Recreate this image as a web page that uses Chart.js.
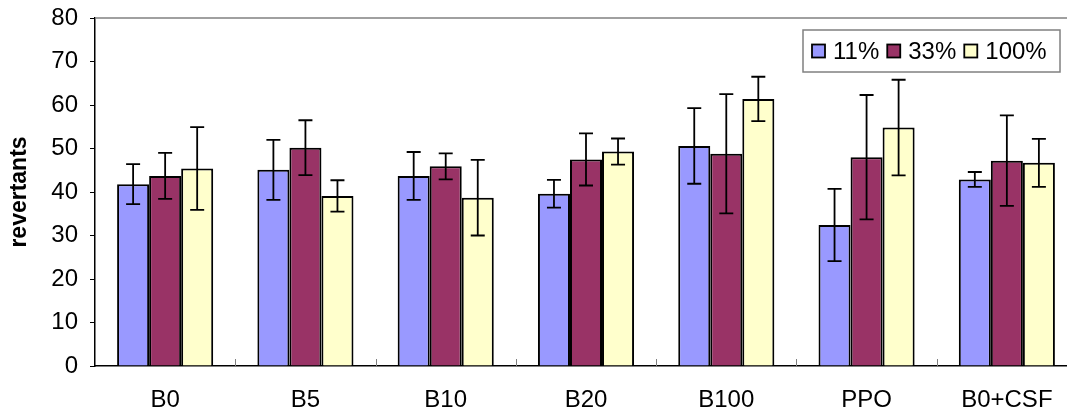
<!DOCTYPE html>
<html>
<head>
<meta charset="utf-8">
<script src="https://cdn.jsdelivr.net/npm/chart.js@4"></script>
<style>
  html, body { margin: 0; padding: 0; background: #fff; overflow: hidden; }
  #wrap { width: 1090px; height: 412px; position: relative; }
</style>
</head>
<body>
<div id="wrap"><canvas id="chart"></canvas></div>
<script>
const categories = ["B0", "B5", "B10", "B20", "B100", "PPO", "B0+CSF"];
const seriesLabels = ["11%", "33%", "100%"];
const mean11 = [41.8, 45.1, 43.7, 39.6, 50.6, 32.4, 42.9];
const mean33 = [43.7, 50.2, 45.9, 47.5, 48.8, 48.0, 47.2];
const mean100 = [45.4, 39.1, 38.7, 49.3, 61.4, 54.8, 46.7];
const err11 = [4.6, 6.9, 5.5, 3.2, 8.7, 8.3, 1.7];
const err33 = [5.3, 6.3, 3.0, 6.0, 13.7, 14.3, 10.4];
const err100 = [9.5, 3.6, 8.7, 3.0, 5.1, 11.0, 5.5];
const colors = ["#9999ff", "#993366", "#ffffcc"];
const yTicks = [0, 10, 20, 30, 40, 50, 60, 70, 80];

const FONT = "'Liberation Sans', Arial, sans-serif";
const errors = [err11, err33, err100];

// error bars, inner category ticks, grey top line
const extras = {
  id: "extras",
  afterDatasetsDraw(chart) {
    const { ctx, chartArea: a, scales: { x, y } } = chart;
    ctx.save();
    ctx.strokeStyle = "#808080";
    ctx.lineWidth = 1.5;
    ctx.beginPath();
    ctx.moveTo(a.left, a.top);
    ctx.lineTo(a.right, a.top);
    ctx.stroke();
    ctx.lineWidth = 1;
    for (let i = 1; i < categories.length; i++) {
      const px = Math.round((x.getPixelForValue(i - 1) + x.getPixelForValue(i)) / 2) + 0.5;
      ctx.beginPath();
      ctx.moveTo(px, a.bottom - 7);
      ctx.lineTo(px, a.bottom);
      ctx.stroke();
    }
    ctx.strokeStyle = "#000";
    ctx.lineWidth = 1.8;
    chart.data.datasets.forEach((ds, i) => {
      chart.getDatasetMeta(i).data.forEach((bar, j) => {
        const v = ds.data[j], e = errors[i][j];
        const t = y.getPixelForValue(v + e), b = y.getPixelForValue(v - e);
        ctx.beginPath();
        ctx.moveTo(bar.x, t); ctx.lineTo(bar.x, b);
        ctx.moveTo(bar.x - 7, t); ctx.lineTo(bar.x + 7, t);
        ctx.moveTo(bar.x - 7, b); ctx.lineTo(bar.x + 7, b);
        ctx.stroke();
      });
    });
    ctx.restore();
  },
  afterDraw(chart) {
    const { ctx, chartArea: a } = chart;
    const bx = a.right - 274, by = 30, bw = 257, bh = 42;
    ctx.save();
    ctx.fillStyle = "#fff";
    ctx.fillRect(bx, by, bw, bh);
    ctx.strokeStyle = "#808080";
    ctx.lineWidth = 1.5;
    ctx.strokeRect(bx, by, bw, bh);
    ctx.font = "24px " + FONT;
    ctx.textBaseline = "middle";
    let cx = bx + 9;
    const cy = by + bh / 2;
    seriesLabels.forEach((lab, i) => {
      ctx.fillStyle = colors[i];
      ctx.fillRect(cx, cy - 6.5, 13, 13);
      ctx.strokeStyle = "#000";
      ctx.lineWidth = 1.8;
      ctx.strokeRect(cx, cy - 6.5, 13, 13);
      ctx.fillStyle = "#000";
      ctx.fillText(lab, cx + 21, cy + 1);
      cx += 21 + ctx.measureText(lab).width + 8;
    });
    ctx.restore();
  }
};

const noPad = s => { s.paddingTop = 0; s.paddingBottom = 0; s.paddingLeft = 0; s.paddingRight = 0; };

new Chart(document.getElementById("chart"), {
  type: "bar",
  data: {
    labels: categories,
    datasets: [mean11, mean33, mean100].map((d, i) => ({
      label: seriesLabels[i],
      data: d,
      backgroundColor: colors[i],
      borderColor: "#000",
      borderWidth: 2,
      categoryPercentage: 0.685,
      barPercentage: 1
    }))
  },
  options: {
    responsive: true,
    maintainAspectRatio: false,
    animation: false,
    layout: { padding: { top: 18, right: 13, left: 0, bottom: 0 } },
    plugins: { legend: { display: false }, tooltip: { enabled: false } },
    scales: {
      x: {
        offset: true,
        grid: { display: false, drawTicks: false },
        border: { color: "#000", width: 1.5 },
        ticks: { color: "#000", font: { family: FONT, size: 24 }, padding: 20, maxRotation: 0 },
        afterFit: s => { s.height = 46; noPad(s); }
      },
      y: {
        min: 0,
        max: 80,
        afterBuildTicks: s => { s.ticks = yTicks.map(v => ({ value: v })); },
        grid: { drawOnChartArea: false, tickLength: 5, color: "#000", lineWidth: 1 },
        border: { color: "#000", width: 1.5 },
        ticks: { color: "#000", font: { family: FONT, size: 24 }, padding: 12 },
        title: { display: true, text: "revertants", color: "#000", font: { family: FONT, size: 23, weight: "bold" }, padding: { top: 6, bottom: 0 } },
        afterFit: s => { s.width = 95; noPad(s); }
      }
    }
  },
  plugins: [extras]
});
</script>
</body>
</html>
